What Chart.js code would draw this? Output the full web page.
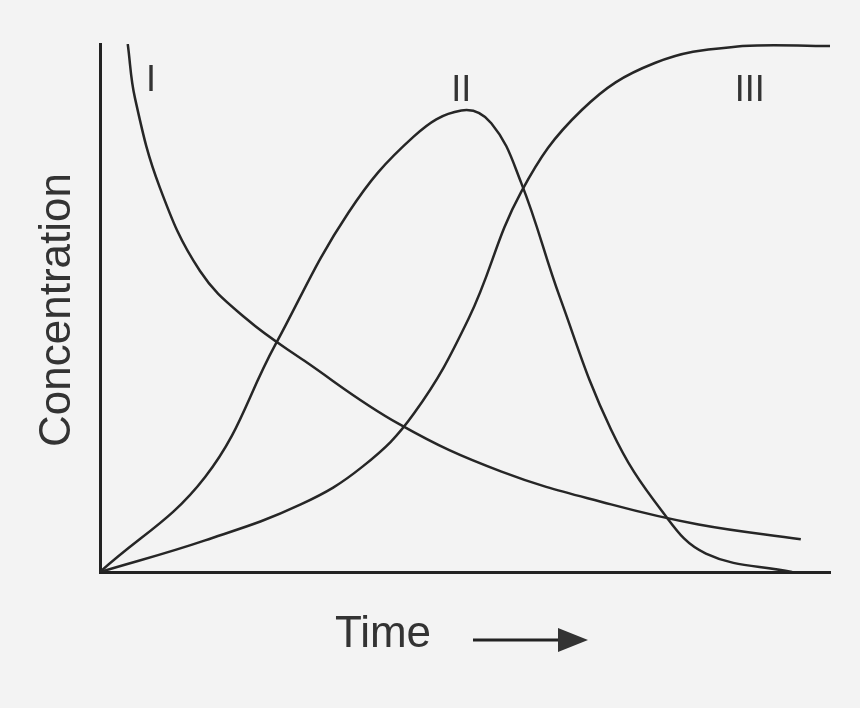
<!DOCTYPE html>
<html><head><meta charset="utf-8">
<script src="https://cdn.jsdelivr.net/npm/chart.js"></script>
<style>html,body{margin:0;background:#f3f3f3}#w{width:860px;height:708px}</style>
</head><body><div id="w"><canvas id="c"></canvas></div>
<script>
const seriesI = [[3.8,100],[4.8,89.7],[8.2,72.8],[13.7,57],[20,48],[28,40],[41,28],[55,19],[70,12.8],[82,9],[96,6.2]];
const seriesII = [[0,0],[14.4,18],[24,43],[34,68],[43,82.5],[49.5,87.4],[53.6,85],[57.7,73.7],[63,52],[70,27],[77,11.5],[83,3.5],[94.8,0]];
const seriesIII = [[0,0],[14.4,6],[27.5,12.8],[36,20],[43,30],[50.5,48],[57.7,72],[66,87.5],[76,96.4],[88,99.6],[100,99.6]];
const curveLabels = [['I',7,93],['II',49.5,91],['III',89,91]];
const toPts = a => a.map(p => ({x:p[0], y:p[1]}));
const ds = d => ({data: toPts(d), borderColor:'#262626', borderWidth:2.5, pointRadius:0, fill:false, tension:0.4});
const deco = {id:'deco', afterDraw(ch){
  const c = ch.ctx, xs = ch.scales.x, ys = ch.scales.y;
  c.save(); c.fillStyle='#333'; c.font='36px "Liberation Sans", Arial'; c.textAlign='center'; c.textBaseline='middle';
  curveLabels.forEach(l => c.fillText(l[0], xs.getPixelForValue(l[1]), ys.getPixelForValue(l[2])));
  c.font='44px "Liberation Sans", Arial';
  c.fillText('Time', 383, 635);
  c.strokeStyle='#222'; c.lineWidth=3; c.beginPath(); c.moveTo(473,640); c.lineTo(565,640); c.stroke();
  c.beginPath(); c.moveTo(588,640); c.lineTo(558,628); c.lineTo(558,652); c.closePath(); c.fill();
  c.translate(58, 310); c.rotate(-Math.PI/2); c.fillText('Concentration', 0, 0);
  c.restore();
}};
new Chart(document.getElementById('c'), {
  type:'line',
  data:{datasets:[ds(seriesI), ds(seriesII), ds(seriesIII)]},
  options:{responsive:true, maintainAspectRatio:false, animation:false,
    layout:{padding:{left:92, right:30, top:44, bottom:128}},
    plugins:{legend:{display:false}, tooltip:{enabled:false}},
    scales:{
      x:{type:'linear', min:0, max:100, grid:{display:false}, ticks:{display:false}, border:{color:'#222', width:3}},
      y:{min:0, max:100, grid:{display:false}, ticks:{display:false}, border:{color:'#222', width:3}}
    }},
  plugins:[deco]
});
</script></body></html>
